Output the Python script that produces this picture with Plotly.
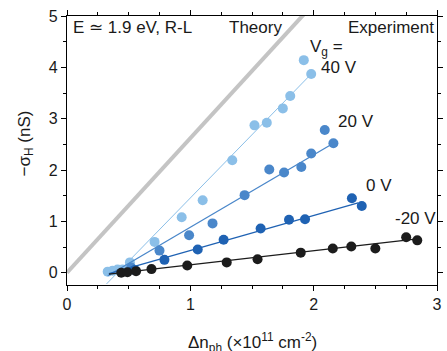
import plotly.graph_objects as go

# ---------------- data ----------------
theory_x = [0.0, 2.0]
theory_y = [0.0, 5.24]

x_40 = [0.33, 0.37, 0.41, 0.45, 0.51, 0.71, 0.93, 1.10, 1.34, 1.52, 1.62, 1.75, 1.81, 1.92, 1.98]
y_40 = [0.02, 0.04, 0.06, 0.06, 0.20, 0.60, 1.08, 1.41, 2.19, 2.87, 2.92, 3.20, 3.44, 4.14, 3.87]
fit40_x = [0.32, 1.98]
fit40_y = [-0.22, 3.87]

x_20 = [0.52, 0.75, 0.99, 1.18, 1.44, 1.64, 1.76, 1.90, 1.98, 2.09, 2.16]
y_20 = [0.10, 0.43, 0.73, 0.96, 1.51, 2.01, 1.95, 2.06, 2.32, 2.78, 2.52]
fit20_x = [0.33, 2.16]
fit20_y = [-0.06, 2.52]

x_0 = [0.55, 0.79, 1.06, 1.27, 1.57, 1.80, 1.93, 2.31, 2.39]
y_0 = [0.05, 0.25, 0.45, 0.64, 0.86, 1.03, 1.04, 1.45, 1.30]
fit0_x = [0.34, 2.36]
fit0_y = [-0.02, 1.36]

x_m20 = [0.44, 0.49, 0.56, 0.685, 0.975, 1.295, 1.545, 1.895, 2.155, 2.305, 2.50, 2.75, 2.84]
y_m20 = [0.00, 0.01, 0.03, 0.07, 0.14, 0.20, 0.26, 0.39, 0.47, 0.51, 0.47, 0.69, 0.63]
fitm20_x = [0.34, 2.84]
fitm20_y = [-0.03, 0.66]

x_ticks = [0, 1, 2, 3]
y_ticks = [0, 1, 2, 3, 4, 5]

colors = {"40": "#8bbfe8", "20": "#4a87ca", "0": "#1f62b3", "-20": "#1c1c1c"}

FONT = "Liberation Sans, Arial, Helvetica, sans-serif"

fig = go.Figure()

fig.add_trace(go.Scatter(x=theory_x, y=theory_y, mode="lines",
                         line=dict(color="#c4c4c4", width=4), showlegend=False))

series = [
    (x_40, y_40, fit40_x, fit40_y, colors["40"], 1.0),
    (x_20, y_20, fit20_x, fit20_y, colors["20"], 1.3),
    (x_0, y_0, fit0_x, fit0_y, colors["0"], 1.3),
    (x_m20, y_m20, fitm20_x, fitm20_y, colors["-20"], 1.3),
]
for xs, ys, fx, fy, c, lw in series:
    fig.add_trace(go.Scatter(x=fx, y=fy, mode="lines",
                             line=dict(color=c, width=lw), showlegend=False))
    fig.add_trace(go.Scatter(x=xs, y=ys, mode="markers",
                             marker=dict(color=c, size=10, line=dict(width=0)),
                             showlegend=False, cliponaxis=False))

def ann(x, y, text, xanchor="left", size=17):
    fig.add_annotation(x=x, y=y, text=text, showarrow=False, xanchor=xanchor,
                       yanchor="middle", font=dict(family=FONT, size=size, color="#1a1a1a"))

ann(0.03, 4.78, "E \u2243 1.9 eV, R-L")
ann(1.53, 4.78, "Theory", xanchor="center")
ann(2.995, 4.78, "Experiment", xanchor="right")
ann(1.95, 4.38, "V<sub>g</sub> =")
ann(2.045, 4.0, "40 V")
ann(2.18, 2.94, "20 V")
ann(2.41, 1.69, "0 V")
ann(2.64, 1.06, "-20 V")

fig.add_annotation(x=-0.147, y=0.525, xref="paper", yref="paper",
                   text="\u2212\u03c3<sub>H</sub> (nS)", textangle=-90, showarrow=False,
                   font=dict(family=FONT, size=17, color="#1a1a1a"))
fig.add_annotation(x=0.5, y=-0.16, xref="paper", yref="paper", yanchor="top",
                   text="\u0394n<sub>ph</sub> (\u00d710<sup>11</sup> cm<sup>-2</sup>)",
                   showarrow=False, font=dict(family=FONT, size=17, color="#1a1a1a"))

axis_common = dict(showgrid=False, zeroline=False, showline=True, linecolor="black",
                   linewidth=1.2, ticks="outside", ticklen=5, tickwidth=1.2,
                   tickcolor="black", mirror="allticks",
                   tickfont=dict(family=FONT, size=16, color="#1a1a1a"))

fig.update_xaxes(range=[0, 3], tickvals=x_ticks, ticktext=[str(v) for v in x_ticks],
                 minor=dict(dtick=0.25, ticks="outside", ticklen=3, tickwidth=1, tickcolor="black"),
                 **axis_common)
fig.update_yaxes(range=[-0.24, 5], tickvals=y_ticks, ticktext=[str(v) for v in y_ticks],
                 minor=dict(dtick=0.5, tick0=0, ticks="outside", ticklen=3, tickwidth=1, tickcolor="black"),
                 **axis_common)

fig.update_layout(width=447, height=351, margin=dict(l=67, r=4, t=16, b=66),
                  plot_bgcolor="white", paper_bgcolor="white",
                  font=dict(family=FONT, color="#1a1a1a"))

fig.write_html("out.html", config={"displayModeBar": False},
               post_script="document.body.style.margin='0';document.body.style.overflow='hidden';")
